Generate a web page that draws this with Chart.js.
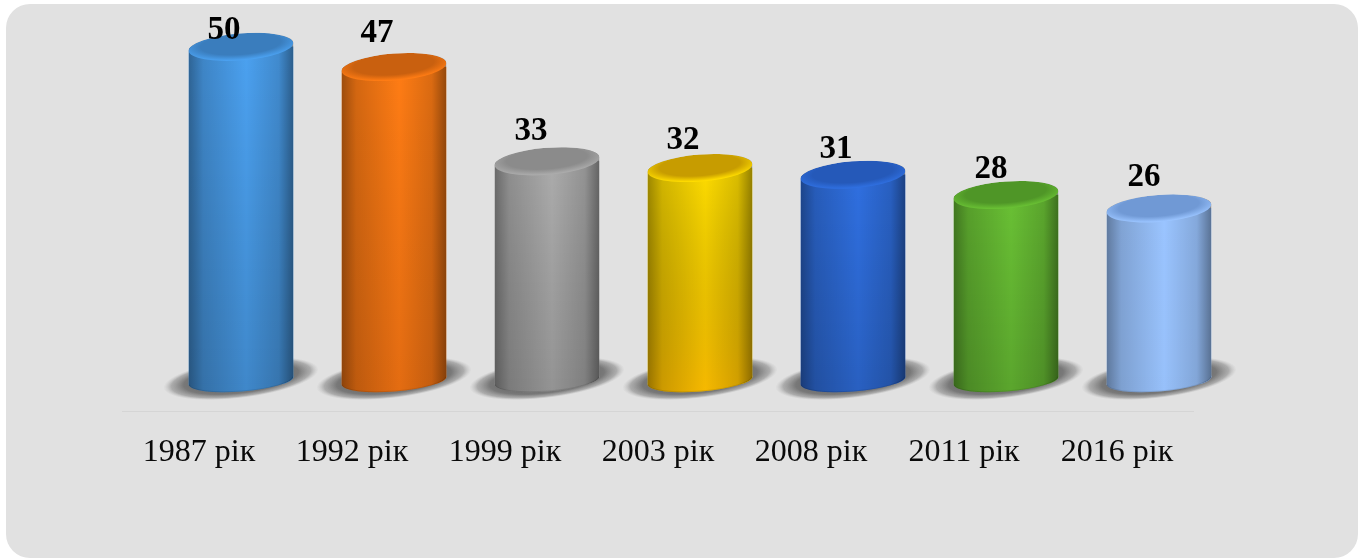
<!DOCTYPE html>
<html lang="uk">
<head>
    <meta charset="UTF-8">
    <title>Cylinders</title>
    <style>
        html, body { margin: 0; padding: 0; background: white; overflow: hidden; }
        #panel {
            position: absolute;
            left: 6px; top: 4px;
            width: 1352px; height: 554px;
            background: #e1e1e1;
            border-radius: 24px;
        }
        canvas { position: absolute; left: 0; top: 0; }
    </style>
    <script src="https://cdn.jsdelivr.net/npm/chart.js"></script>
</head>
<body>
    <div id="panel"></div>
    <canvas id="chart" width="1359" height="558"></canvas>
    <script>
        var years = ['1987 рік', '1992 рік', '1999 рік', '2003 рік', '2008 рік', '2011 рік', '2016 рік'];
        var counts = [50, 47, 33, 32, 31, 28, 26];

        // body and top-cap colours of each cylinder, and what the body fades to near the floor
        var bodyColors = ['#4ba1f0', '#ff7c14', '#ababab', '#ffdc00', '#2f6fe0', '#69c034', '#9ac4ff'];
        var capColors = ['#3a7dbd', '#c9600f', '#8b8b8b', '#c79c00', '#2559b9', '#4f9627', '#7099d5'];
        var floorTints = ['rgba(0,0,0,0.16)', 'rgba(60,10,0,0.14)', 'rgba(0,0,0,0.14)', 'rgba(230,110,0,0.32)',
            'rgba(0,0,0,0.14)', 'rgba(0,0,0,0.14)', 'rgba(0,0,0,0.02)'];

        // the 3D look pushes cylinders away from the axis
        var shiftX = 42, shiftY = -27.5;
        var rx = 52.5, ry = 13.5, floorRy = 11, tilt = -4.5 * Math.PI / 180;
        // hand placed value labels, relative to axis x and cylinder top
        var labelDx = [25, 25, 26, 25, 25, 27, 27];
        var labelDy = [-16.5, -34, -29.5, -28, -25, -25, -30.5];

        function silhouette(ctx, bar) {
            var top = bar.y, bottom = bar.base - 3;
            var dx = rx * Math.cos(tilt), dy = rx * Math.sin(tilt);
            ctx.moveTo(bar.x - dx, top - dy);
            ctx.lineTo(bar.x - dx, bottom - dy);
            ctx.ellipse(bar.x, bottom, rx, floorRy, tilt, Math.PI, 0, true);
            ctx.lineTo(bar.x + dx, top + dy);
            ctx.ellipse(bar.x, top, rx, ry, tilt, 0, Math.PI, true);
            ctx.closePath();
        }

        var cylinders = {
            id: 'cylinders',
            beforeDatasetsDraw: function (chart) {
                var ctx = chart.ctx;
                var bars = chart.getDatasetMeta(0).data;
                ctx.save();
                ctx.translate(shiftX, shiftY);
                bars.forEach(function (bar, i) {
                    // floor shadow
                    ctx.save();
                    ctx.translate(bar.x, bar.base - 5);
                    ctx.rotate(-7 * Math.PI / 180);
                    ctx.scale(1, 0.25);
                    var g = ctx.createRadialGradient(0, 0, 0, 0, 0, 78);
                    g.addColorStop(0, 'rgba(70,70,70,1)');
                    g.addColorStop(0.74, 'rgba(85,85,85,0.75)');
                    g.addColorStop(0.9, 'rgba(120,120,120,0.5)');
                    g.addColorStop(1, 'rgba(170,170,170,0)');
                    ctx.fillStyle = g;
                    ctx.beginPath();
                    ctx.arc(0, 0, 78, 0, Math.PI * 2);
                    ctx.fill();
                    ctx.restore();
                    // bottom of the body, below the bar base
                    ctx.fillStyle = bodyColors[i];
                    ctx.beginPath();
                    ctx.ellipse(bar.x, bar.base - 3, rx, floorRy, tilt, 0, Math.PI * 2);
                    ctx.fill();
                });
                ctx.beginPath();
                bars.forEach(function (bar) { silhouette(ctx, bar); });
                ctx.clip();
            },
            afterDatasetsDraw: function (chart) {
                var ctx = chart.ctx;
                var bars = chart.getDatasetMeta(0).data;
                bars.forEach(function (bar, i) {
                    var left = bar.x - rx, top = bar.y - ry, h = bar.base - bar.y + ry * 2 + 5;
                    // it changes a bit towards the floor
                    var g = ctx.createLinearGradient(0, bar.y, 0, bar.base + 10);
                    g.addColorStop(0, 'rgba(0,0,0,0)');
                    g.addColorStop(1, floorTints[i]);
                    ctx.fillStyle = g;
                    ctx.fillRect(left, top, rx * 2, h);
                    // round shading across the body
                    var side = ctx.createLinearGradient(left, 0, left + rx * 2, 0);
                    side.addColorStop(0, 'rgba(0,0,0,0.38)');
                    side.addColorStop(0.14, 'rgba(0,0,0,0.17)');
                    side.addColorStop(0.55, 'rgba(0,0,0,0)');
                    side.addColorStop(0.86, 'rgba(0,0,0,0.14)');
                    side.addColorStop(1, 'rgba(0,0,0,0.42)');
                    ctx.fillStyle = side;
                    ctx.fillRect(left, top, rx * 2, h);
                    ctx.strokeStyle = 'rgba(0,0,0,0.1)';
                    ctx.lineWidth = 2;
                    ctx.beginPath();
                    ctx.ellipse(bar.x, bar.base - 3, rx, floorRy, tilt, Math.PI, 0, true);
                    ctx.stroke();
                });
                bars.forEach(function (bar, i) {
                    // top cap, soft light edge towards the front
                    ctx.save();
                    ctx.translate(bar.x, bar.y);
                    ctx.rotate(tilt);
                    ctx.scale(1, ry / rx);
                    var cap = ctx.createRadialGradient(0, -rx * 0.2, 0, 0, -rx * 0.2, rx * 1.2);
                    cap.addColorStop(0, capColors[i]);
                    cap.addColorStop(0.64, capColors[i]);
                    cap.addColorStop(0.97, bodyColors[i]);
                    cap.addColorStop(1, bodyColors[i]);
                    ctx.fillStyle = cap;
                    ctx.beginPath();
                    ctx.arc(0, 0, rx, 0, Math.PI * 2);
                    ctx.fill();
                    ctx.restore();
                });
                ctx.restore();

                ctx.fillStyle = 'black';
                ctx.font = 'bold 33px "Liberation Serif"';
                ctx.textAlign = 'center';
                ctx.textBaseline = 'middle';
                bars.forEach(function (bar, i) {
                    ctx.fillText(String(counts[i]), bar.x + labelDx[i], bar.y + shiftY + labelDy[i]);
                });
            }
        };

        var chartConfig = {
            type: 'bar',
            data: {
                labels: years,
                datasets: [{
                    data: counts,
                    barThickness: 105,
                    borderWidth: 0,
                    clip: false,
                    backgroundColor: bodyColors
                }]
            },
            options: {
                responsive: false,
                animation: false,
                layout: { padding: { left: 122.5, right: 165.5, top: 7, bottom: 64.6 } },
                plugins: { legend: { display: false }, tooltip: { enabled: false } },
                scales: {
                    x: {
                        grid: { display: false, drawTicks: false },
                        border: { color: '#d5d5d5', width: 1 },
                        ticks: {
                            color: '#0a0a0a',
                            padding: 22,
                            maxRotation: 0,
                            autoSkip: false,
                            font: { family: '"Liberation Serif"', size: 32 }
                        }
                    },
                    y: { display: false, min: 0, max: 60 }
                }
            },
            plugins: [cylinders]
        };

        new Chart(document.getElementById('chart'), chartConfig);
    </script>
</body>
</html>
